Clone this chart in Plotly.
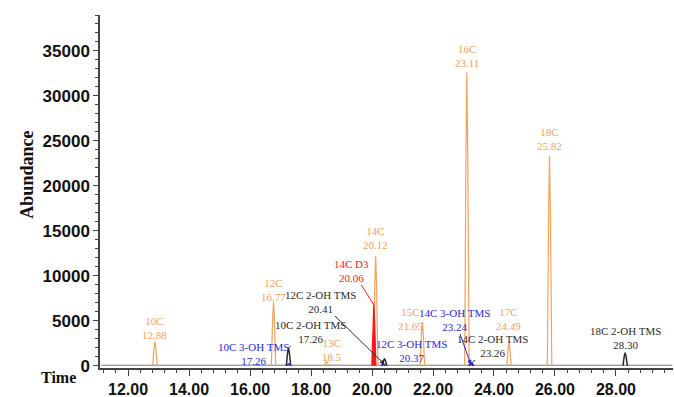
import plotly.graph_objects as go

# ---- chromatogram peaks: retention time (min) and abundance ----
fa_names = ["10C", "12C", "13C", "14C", "15C", "16C", "17C", "18C"]
fa_rt = [12.88, 16.77, 18.5, 20.12, 21.65, 23.11, 24.49, 25.82]
fa_abund = [2700, 7100, 500, 12200, 4900, 32600, 2600, 23300]

oh2_names = ["10C 2-OH TMS", "12C 2-OH TMS", "14C 2-OH TMS", "18C 2-OH TMS"]
oh2_rt = [17.26, 20.41, 23.26, 28.30]
oh2_abund = [2000, 800, 300, 1450]

oh3_names = ["10C 3-OH TMS", "12C 3-OH TMS", "14C 3-OH TMS"]
oh3_rt = [17.26, 20.37, 23.24]
oh3_abund = [200, 200, 200]

istd_names = ["14C D3"]
istd_rt = [20.06]
istd_abund = [6800]

# axis ticks
x_ticks = [12, 14, 16, 18, 20, 22, 24, 26, 28]
y_ticks = [0, 5000, 10000, 15000, 20000, 25000, 30000, 35000]

ORANGE = "#F6A05A"
BLUE = "#2626E6"
BLACK = "#2a2a2a"
RED = "#FF1414"

# narrow peak outline (time offsets in min, fraction of apex)
PEAK_DT = [-0.075, -0.065, -0.03, 0.0, 0.03, 0.065, 0.075]
PEAK_FR = [0.0, 0.1, 0.72, 1.0, 0.72, 0.1, 0.0]


def outline(rts, heights, widen=1.0):
    xs, ys = [], []
    for t, h in zip(rts, heights):
        for dt, fr in zip(PEAK_DT, PEAK_FR):
            xs.append(t + dt * widen)
            ys.append(h * fr)
        xs.append(None)
        ys.append(None)
    return xs, ys


fig = go.Figure()

# baseline of the total ion trace
fig.add_trace(go.Scatter(x=[11.12, 29.85], y=[60, 60], mode="lines",
                         line=dict(color="#777777", width=1), hoverinfo="skip"))

for rts, ab, col, wid in [(fa_rt, fa_abund, ORANGE, 1.2),
                          (oh2_rt, oh2_abund, BLACK, 1.5),
                          (oh3_rt, oh3_abund, BLUE, 1.5)]:
    xs, ys = outline(rts, ab)
    fig.add_trace(go.Scatter(x=xs, y=ys, mode="lines",
                             line=dict(color=col, width=wid), connectgaps=False))

xs, ys = outline(istd_rt, istd_abund, widen=0.9)
fig.add_trace(go.Scatter(x=xs, y=ys, mode="lines", fill="toself", fillcolor=RED,
                         line=dict(color=RED, width=1.2), connectgaps=False))

ann_font = dict(family="Liberation Serif", size=11)

# labels sitting directly above their peaks: (label centre abundance, x shift px)
above = {
    "10C": (4180, 0), "12C": (8420, 0), "13C": (1780, 6), "14C": (14160, 0),
    "15C": (5180, -12), "16C": (34450, 0), "17C": (5180, 0), "18C": (25200, 0),
}
for name, rt in zip(fa_names, fa_rt):
    yv, dx = above[name]
    rt_txt = f"{rt}" if name == "13C" else f"{rt:.2f}"
    fig.add_annotation(x=rt, y=yv, text=f"{name}<br>{rt_txt}",
                       showarrow=False, xshift=dx, xanchor="center", yanchor="middle",
                       font=dict(color=ORANGE, **ann_font))

fig.add_annotation(x=oh2_rt[3], y=3070, text=f"{oh2_names[3]}<br>{oh2_rt[3]:.2f}",
                   showarrow=False, xanchor="center", yanchor="middle",
                   font=dict(color=BLACK, **ann_font))

# labels joined to their peaks by leader lines: (text centre time, abundance, tip, head)
leaders = [
    (oh2_names[0], oh2_rt[0], oh2_abund[0], 17.97, 3790, "top", 0, BLACK),
    (oh3_names[0], oh3_rt[0], oh3_abund[0], 16.10, 1340, "base", 2, BLUE),
    (oh2_names[1], oh2_rt[1], oh2_abund[1], 18.30, 7140, "base", 2, BLACK),
    (oh3_names[1], oh3_rt[1], oh3_abund[1], 21.31, 1670, "base", 2, BLUE),
    (istd_names[0], istd_rt[0], istd_abund[0], 19.34, 10590, "top", 0, RED),
    (oh3_names[2], oh3_rt[2], oh3_abund[2], 22.72, 5130, "base", 2, BLUE),
    (oh2_names[2], oh2_rt[2], oh2_abund[2], 23.95, 2250, "top", 0, BLACK),
]
for name, rt, h, tx, ty, tip, head, col in leaders:
    fig.add_annotation(x=rt, y=h if tip == "top" else 150,
                       ax=tx, ay=ty, axref="x", ayref="y",
                       text=f"{name}<br>{rt:.2f}", showarrow=True,
                       arrowhead=head, arrowsize=0.9, arrowwidth=1,
                       arrowcolor=col, standoff=0,
                       font=dict(color=col, **ann_font))

# axis captions
fig.add_annotation(xref="paper", yref="paper", x=-0.129, y=0.548,
                   xanchor="center", yanchor="middle",
                   text="Abundance", textangle=-90, showarrow=False,
                   font=dict(family="Liberation Serif", size=18, color="#111", weight="bold"))
fig.add_annotation(xref="paper", yref="paper", x=-0.0716, y=-0.028,
                   xanchor="center", yanchor="middle",
                   text="Time", showarrow=False,
                   font=dict(family="Liberation Serif", size=16, color="#111", weight="bold"))

tick_font = dict(family="Liberation Sans", size=17, color="#111", weight="bold")
fig.update_xaxes(range=[11.08, 29.87], tickvals=x_ticks,
                 ticktext=[f"{v:.2f}" for v in x_ticks],
                 ticks="outside", ticklen=6, tickwidth=1.3, tickcolor="#444",
                 showline=True, linecolor="#444", linewidth=1.5,
                 showgrid=False, zeroline=False,
                 tickfont=dict(family="Liberation Sans", size=16, color="#111", weight="bold"),
                 ticklabelstandoff=0, automargin=False,
                 minor=dict(dtick=0.4, tick0=12, ticks="outside", ticklen=3,
                            tickcolor="#444", showgrid=False))
fig.update_yaxes(range=[-250, 39000], tickvals=y_ticks, tickformat="d",
                 ticks="outside", ticklen=5, tickwidth=1.3, tickcolor="#444",
                 showline=True, linecolor="#444", linewidth=1.5,
                 showgrid=False, zeroline=False, tickfont=tick_font,
                 automargin=False,
                 minor=dict(dtick=1000, tick0=0, ticks="outside", ticklen=3,
                            tickcolor="#444", showgrid=False))

fig.update_layout(width=674, height=397, showlegend=False,
                  margin=dict(l=100, r=1, t=15, b=29),
                  paper_bgcolor="white", plot_bgcolor="white")

fig.write_html("out.html")
